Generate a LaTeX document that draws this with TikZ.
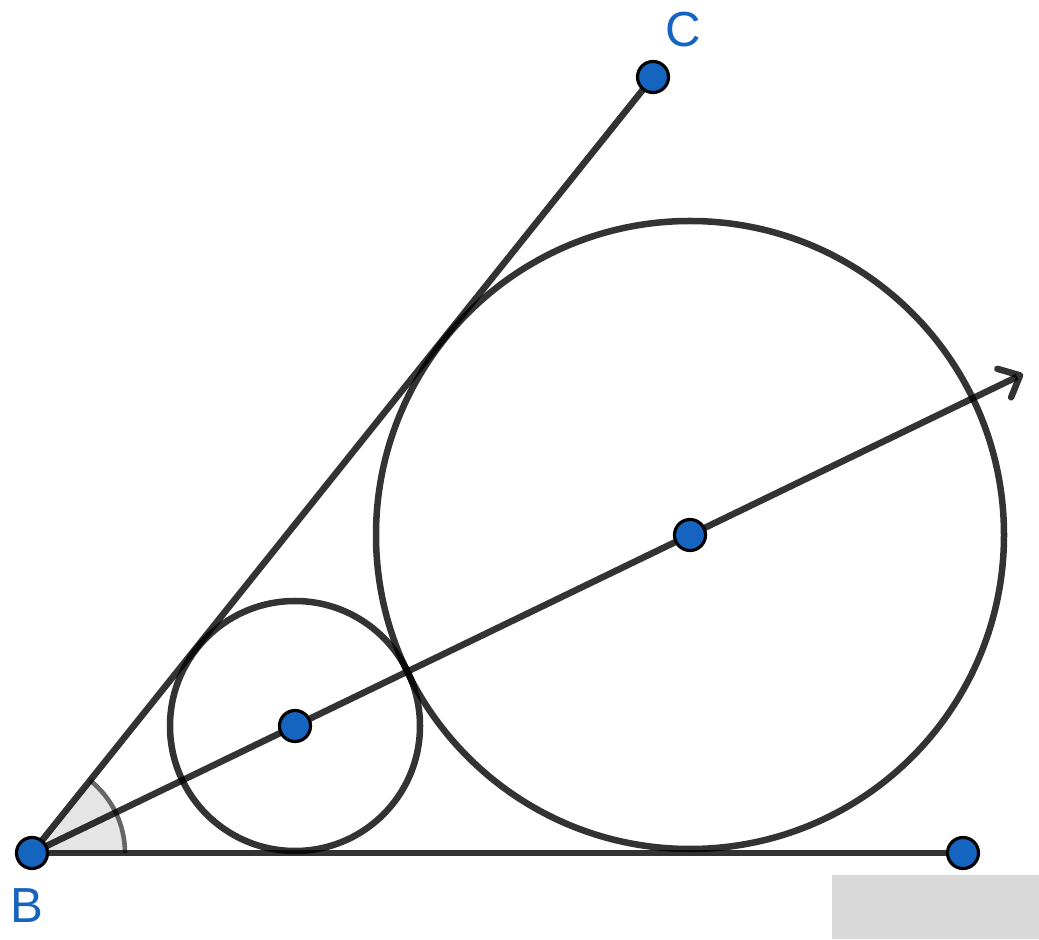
\documentclass[tikz,border=0pt]{standalone}
\usepackage{fontspec}
\setmainfont{Liberation Sans}
\usetikzlibrary{arrows.meta}
\definecolor{ptblue}{RGB}{21,101,192}
\begin{document}
\begin{tikzpicture}[x=0.01cm, y=0.01cm, >={Straight Barb[length=5pt,width=9pt,round]},
  ln/.style={draw=black, draw opacity=0.8, line width=1.85pt},
  dot/.style={circle, draw=black, line width=0.9pt, fill=ptblue, minimum size=0.31cm, inner sep=0pt},
  lbl/.style={text=ptblue, font=\fontsize{14pt}{16pt}\selectfont}]
\useasboundingbox (0,0) rectangle (1039,939);
\fill[black!15] (832,0) rectangle (1039,64);

\coordinate (B) at (32,86);
\coordinate (C) at (653,862);
\coordinate (D) at (963,86);
\coordinate (O1) at (295,213);
\coordinate (O2) at (690,404);
\coordinate (E) at (1023,565);

% angle at B
\fill[black!10] (B) -- ++(93,0) arc[start angle=0, end angle=51.3, radius=93] -- cycle;
\draw[black!60, line width=1.3pt] (B) ++(93,0) arc[start angle=0, end angle=51.3, radius=93];

\draw[ln] (B) -- (C);
\draw[ln] (B) -- (D);
\draw[ln,->] (B) -- (E);
\draw[ln] (O1) circle[radius=125];
\draw[ln] (O2) circle[radius=314];

\node[dot] (b) at (B) {};
\node[dot] (c) at (C) {};
\node[dot] (d) at (D) {};
\node[dot] (o1) at (O1) {};
\node[dot] (o2) at (O2) {};
\node[lbl] (lb) at (27,33) {B};
\node[lbl] (lc) at (683,909) {C};
\end{tikzpicture}
\end{document}
